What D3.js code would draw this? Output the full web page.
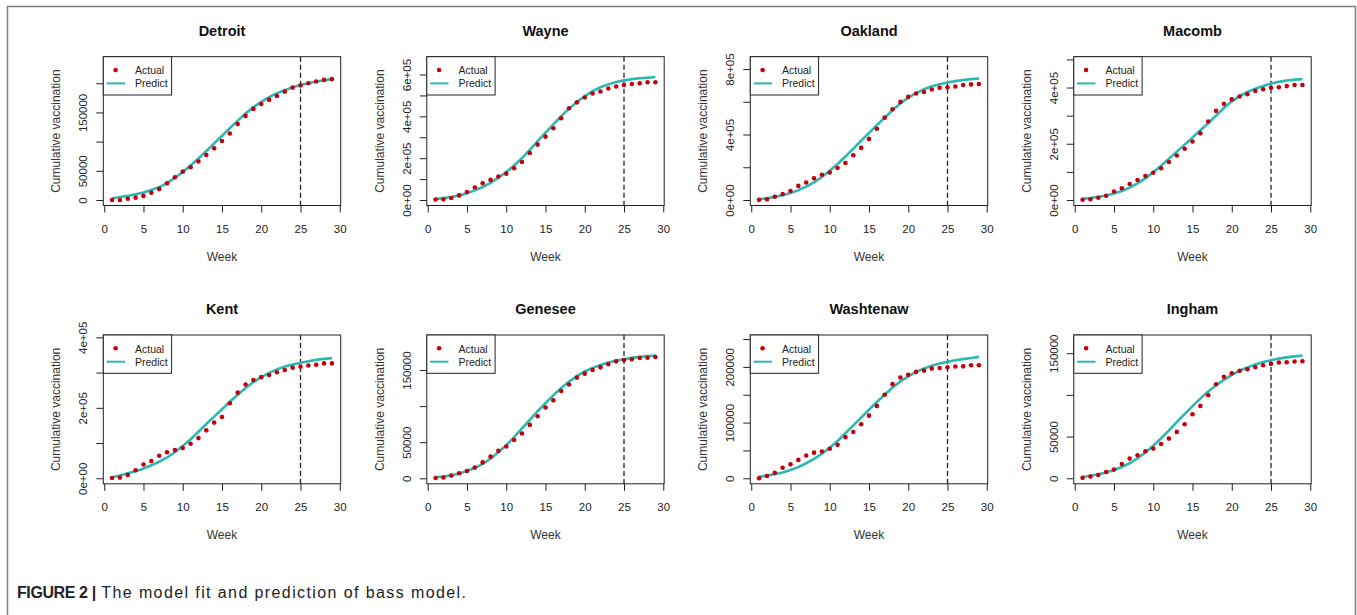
<!DOCTYPE html>
<html>
<head>
<meta charset="utf-8">
<script src="https://cdn.jsdelivr.net/npm/d3@7"></script>
<style>
  body { margin: 0; background: #fff; }
  svg { display: block; font-family: "Liberation Sans", Arial, sans-serif; }
</style>
</head>
<body>
<svg id="chart"></svg>
<script>
// weeks and county names
const weeks = [1,2,3,4,5,6,7,8,9,10,11,12,13,14,15,16,17,18,19,20,21,22,23,24,25,26,27,28,29];
const counties = ["Detroit", "Wayne", "Oakland", "Macomb", "Kent", "Genesee", "Washtenaw", "Ingham"];

// actual cumulative vaccinations (red dots)
const actualDetroit = [0,0,2000,4000,7000,12500,19000,28500,39000,48500,56000,66000,77000,88500,101000,114000,130000,144000,156000,164500,171500,178000,185700,192500,196000,200000,203000,205700,207000];
const actualWayne = [2000,3000,9600,22000,38000,60000,80000,96000,112000,126000,152000,182000,225000,265000,303000,343000,391000,439000,467000,490000,509000,519000,533000,543000,550000,555000,558000,563000,563000];
const actualOakland = [1000,4000,20000,37000,55000,86000,107000,133000,154000,168000,195000,226000,273000,318000,373000,435000,503000,554000,599000,630000,650000,660000,675000,685000,689000,693000,702000,706000,708000];
const actualMacomb = [1000,2400,8000,15000,30000,42000,57000,71000,85000,97000,113000,135000,158000,182000,208000,237000,279000,317000,342000,358000,368000,376000,388000,394000,399000,401000,405000,409000,409000];
const actualKent = [1000,2000,9500,23000,39000,49000,64000,74000,80000,86000,98000,114000,136000,158000,174000,213000,243000,266000,279000,287000,293000,301000,307000,314000,317000,320000,322000,326000,326000];
const actualGenesee = [500,1000,3700,7000,10000,14800,22000,30000,38000,44000,53000,62000,74000,86000,98000,108000,121000,130000,139500,145000,150000,153700,158000,162000,164000,165000,166600,167000,168000];
const actualWashtenaw = [0,4000,10000,19000,25000,33000,41000,46000,48000,53000,60000,74000,83000,97000,112500,130000,150000,169000,181000,186000,191000,193400,197000,198000,199400,200600,201000,203000,203000];
const actualIngham = [500,2000,4000,7600,10400,17000,23600,27600,32400,35600,41200,47600,55600,64800,76800,86800,99600,112800,121600,126000,128800,130800,133200,135600,137200,138800,139200,140000,140400];

// bass model prediction (teal line)
const predictDetroit = [3000,5000,7000,10000,13000,17000,22000,29000,38000,48000,59000,71000,84000,97000,110000,123000,136000,148000,159000,168000,176000,183000,188000,193000,197000,200000,203000,205000,207000];
const predictWayne = [5000,9000,14000,22000,32000,46000,62000,82000,107000,134000,165000,200000,240000,281000,322000,362000,401000,437000,469000,497000,521000,539000,553000,564000,572000,578000,582000,585000,588000];
const predictOakland = [5000,11000,19000,29000,42000,60000,82000,108000,140000,178000,220000,266000,314000,362000,410000,457000,502000,548000,590000,625000,653000,676000,694000,707000,717000,726000,733000,738000,742000];
const predictMacomb = [4000,7000,11000,16000,23000,32000,44000,59000,77000,99000,122000,147000,172000,197000,222000,248000,273000,300000,327000,351000,369000,384000,396000,405000,414000,420000,425000,428000,430000];
const predictKent = [3000,8000,14000,20000,28000,37000,47000,59000,74000,92000,111000,132000,154000,175000,196000,217000,237000,256000,273000,287000,299000,309000,317000,323000,328000,332000,336000,339000,341000];
const predictGenesee = [1500,2500,4000,6500,10000,14500,20000,27000,36000,46000,57000,69000,81000,93000,104000,115000,125000,134000,141500,148000,153000,157000,160500,163000,165000,166800,168200,169300,170200];
const predictWashtenaw = [2500,5000,7500,10500,15000,20000,27000,35000,44000,55000,67000,81000,95000,109000,123000,137000,150000,163000,174000,183000,191000,197000,202000,206000,209000,212000,214000,216000,218000];
const predictIngham = [1500,3000,4800,7000,10000,13500,18000,24000,31000,39000,48000,57500,67500,77000,86500,95500,104000,111500,118000,124000,129000,133000,136500,139500,141500,143500,145000,146200,147200];

// y limits and y ticks per county
const yMax = [236000, 659000, 841500, 490000, 391000, 190900, 247400, 165200];
const yTicks = [
  [0,50000,100000,150000,200000],
  [0,100000,200000,300000,400000,500000,600000],
  [0,200000,400000,600000,800000],
  [0,100000,200000,300000,400000,500000],
  [0,100000,200000,300000,400000],
  [0,50000,100000,150000],
  [0,50000,100000,150000,200000,250000],
  [0,50000,100000,150000]
];
const yTickLabels = [
  ["0","50000","","150000",""],
  ["0e+00","","2e+05","","4e+05","","6e+05"],
  ["0e+00","","4e+05","","8e+05"],
  ["0e+00","","2e+05","","4e+05",""],
  ["0e+00","","2e+05","","4e+05"],
  ["0","50000","","150000"],
  ["0","","100000","","200000",""],
  ["0","50000","","150000"]
];
const xTicks = [0,5,10,15,20,25,30];
const splitWeek = 25;

const actualSeries = [actualDetroit, actualWayne, actualOakland, actualMacomb, actualKent, actualGenesee, actualWashtenaw, actualIngham];
const predictSeries = [predictDetroit, predictWayne, predictOakland, predictMacomb, predictKent, predictGenesee, predictWashtenaw, predictIngham];

const W = 1357, H = 615;
const colX = [103.3, 426.8, 750.3, 1073.8];
const rowY = [56.7, 335];
const boxW = 237.4, boxH = 148.8;
const red = "#c4000b", teal = "#2bb8b2", ink = "#222";

const svg = d3.select("#chart").attr("width", W).attr("height", H);

// outer frame
svg.append("path")
  .attr("d", `M7.5,${H} V6.5 H1355.5 V${H}`)
  .attr("fill", "none")
  .attr("stroke", "#808080")
  .attr("stroke-width", 1.5);

counties.forEach((name, i) => {
  const g = svg.append("g")
    .attr("transform", `translate(${colX[i % 4]},${rowY[Math.floor(i / 4)]})`);

  const x = d3.scaleLinear().domain([-0.12, 30.12]).range([0, boxW]);
  const y = d3.scaleLinear().domain([-0.04 * yMax[i], 1.04 * yMax[i]]).range([boxH, 0]);

  // x axis
  const xa = g.append("g")
    .attr("transform", `translate(0,${boxH})`)
    .call(d3.axisBottom(x).tickValues(xTicks).tickSize(7).tickFormat(d3.format("d")));
  xa.select(".domain").remove();
  xa.selectAll("line").attr("stroke", ink);
  xa.selectAll("text")
    .attr("y", 27).attr("dy", 0)
    .attr("font-size", 11.5).attr("fill", ink)
    .attr("font-family", "Liberation Sans, Arial, sans-serif");

  // y axis
  const ya = g.append("g")
    .call(d3.axisLeft(y).tickValues(yTicks[i]).tickSize(7)
      .tickFormat((d, j) => yTickLabels[i][j]));
  ya.select(".domain").remove();
  ya.selectAll("line").attr("stroke", ink);
  ya.selectAll("text")
    .attr("x", 0).attr("dy", 0)
    .attr("transform", "translate(-16,0) rotate(-90)")
    .attr("text-anchor", "middle")
    .attr("font-size", 11.5).attr("fill", ink)
    .attr("font-family", "Liberation Sans, Arial, sans-serif");

  // dashed split line
  g.append("line")
    .attr("x1", x(splitWeek)).attr("x2", x(splitWeek))
    .attr("y1", 0).attr("y2", boxH)
    .attr("stroke", "#222")
    .attr("stroke-width", 1.3)
    .attr("stroke-dasharray", "5,3");

  // predicted line
  const line = d3.line()
    .x((d, j) => x(weeks[j]))
    .y(d => y(d));
  g.append("path")
    .datum(predictSeries[i])
    .attr("d", line)
    .attr("fill", "none")
    .attr("stroke", teal)
    .attr("stroke-width", 2.6);

  // actual dots
  g.selectAll("circle.actual")
    .data(actualSeries[i])
    .enter()
    .append("circle")
    .attr("class", "actual")
    .attr("cx", (d, j) => x(weeks[j]))
    .attr("cy", d => y(d))
    .attr("r", 2.3)
    .attr("fill", red);

  // plot box
  g.append("rect")
    .attr("width", boxW).attr("height", boxH)
    .attr("fill", "none")
    .attr("stroke", ink);

  // legend
  const lg = g.append("g");
  lg.append("rect")
    .attr("width", 68.3).attr("height", 38.3)
    .attr("fill", "#fff").attr("stroke", ink);
  lg.append("circle")
    .attr("cx", 12.3).attr("cy", 13.3).attr("r", 2.3).attr("fill", red);
  lg.append("line")
    .attr("x1", 3.3).attr("x2", 21.7).attr("y1", 26.7).attr("y2", 26.7)
    .attr("stroke", teal).attr("stroke-width", 2);
  lg.append("text").attr("x", 31.7).attr("y", 17.8)
    .attr("font-size", 10.5).attr("fill", ink).text("Actual");
  lg.append("text").attr("x", 31.7).attr("y", 30.8)
    .attr("font-size", 10.5).attr("fill", ink).text("Predict");

  // titles
  g.append("text")
    .attr("x", boxW / 2).attr("y", -20.8)
    .attr("text-anchor", "middle")
    .attr("font-size", 14.5).attr("font-weight", "bold").attr("fill", "#111")
    .text(name);
  g.append("text")
    .attr("x", boxW / 2).attr("y", boxH + 55.5)
    .attr("text-anchor", "middle")
    .attr("font-size", 12).attr("fill", "#333")
    .text("Week");
  g.append("text")
    .attr("transform", `translate(-43,${boxH / 2}) rotate(-90)`)
    .attr("text-anchor", "middle")
    .attr("font-size", 12).attr("fill", "#333")
    .text("Cumulative vaccination");
});

// caption
const cap = svg.append("text")
  .attr("x", 17).attr("y", 598)
  .attr("font-size", 16).attr("fill", "#222");
cap.append("tspan").attr("font-weight", "bold").attr("letter-spacing", -0.4).text("FIGURE 2 |");
cap.append("tspan").attr("letter-spacing", 1.4).text(" The model fit and prediction of bass model.");
</script>
</body>
</html>
